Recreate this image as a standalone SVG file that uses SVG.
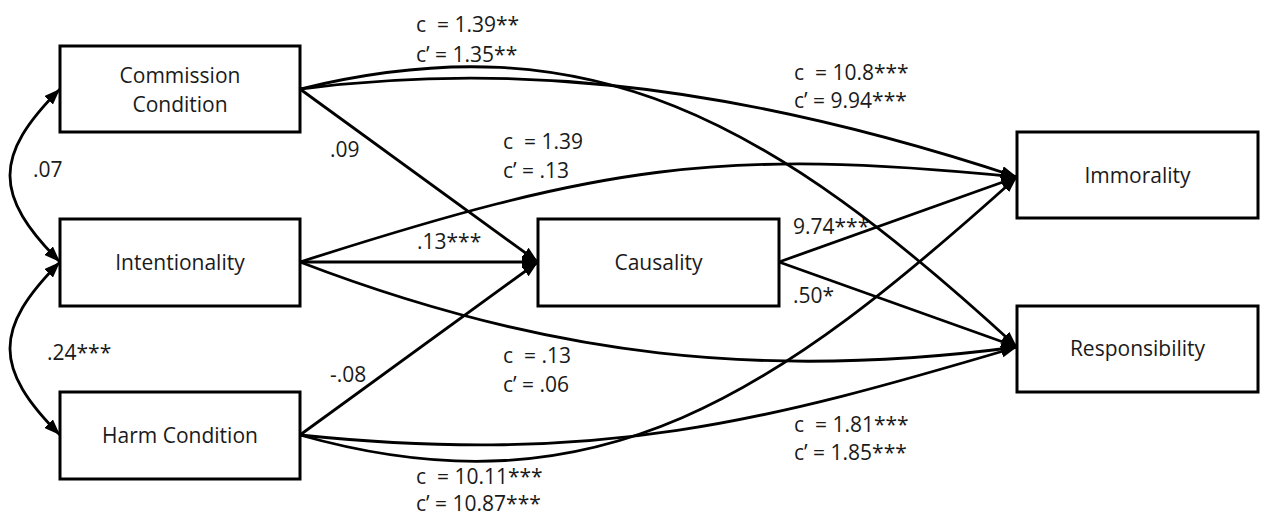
<svg xmlns="http://www.w3.org/2000/svg" width="1262" height="519" viewBox="0 0 1262 519">
  <style>
    .box { fill: #ffffff; stroke: #000000; stroke-width: 3; }
    .name { font-family: "Open Sans", "Noto Sans", sans-serif; font-size: 21px; fill: #1a1a1a; text-anchor: middle; }
    .lbl { font-family: "Open Sans", "Noto Sans", sans-serif; font-size: 21px; fill: #1a1a1a; white-space: pre; }
    .edge { fill: none; stroke: #000000; stroke-width: 2.8; marker-end: url(#arrow); }
    .both { fill: none; stroke: #000000; stroke-width: 2.8; marker-start: url(#arrowStart); marker-end: url(#arrow); }
  </style>
  <defs>
    <marker id="arrow" markerUnits="userSpaceOnUse" viewBox="0 0 16 12" refX="16" refY="6" markerWidth="16" markerHeight="12" orient="auto">
      <path d="M0,0 L16,6 L0,12 z" fill="#000000"/>
    </marker>
    <marker id="arrowStart" markerUnits="userSpaceOnUse" viewBox="0 0 16 12" refX="16" refY="6" markerWidth="16" markerHeight="12" orient="auto-start-reverse">
      <path d="M0,0 L16,6 L0,12 z" fill="#000000"/>
    </marker>
  </defs>

  <rect width="1262" height="519" fill="#ffffff"/>

  <!-- path coefficients and correlations -->
  <g id="labels">
    <text class="lbl" x="416" y="32">c  = 1.39**</text>
    <text class="lbl" x="416" y="62">c’ = 1.35**</text>
    <text class="lbl" x="794" y="80">c  = 10.8***</text>
    <text class="lbl" x="794" y="108">c’ = 9.94***</text>
    <text class="lbl" x="503" y="149">c  = 1.39</text>
    <text class="lbl" x="503" y="178">c’ = .13</text>
    <text class="lbl" x="330" y="157">.09</text>
    <text class="lbl" x="33" y="177">.07</text>
    <text class="lbl" x="417" y="249">.13***</text>
    <text class="lbl" x="793" y="234">9.74***</text>
    <text class="lbl" x="793" y="303">.50*</text>
    <text class="lbl" x="47" y="360">.24***</text>
    <text class="lbl" x="330" y="382">-.08</text>
    <text class="lbl" x="503" y="363">c  = .13</text>
    <text class="lbl" x="503" y="392">c’ = .06</text>
    <text class="lbl" x="794" y="432">c  = 1.81***</text>
    <text class="lbl" x="794" y="460">c’ = 1.85***</text>
    <text class="lbl" x="416" y="484">c  = 10.11***</text>
    <text class="lbl" x="416" y="511">c’ = 10.87***</text>
  </g>

  <g id="connectors">
    <!-- correlations between predictors -->
    <path class="both" d="M60,89 C-6.7,155.7 -6.7,195.3 60,262"/>
    <path class="both" d="M60,262 C-6.7,328.7 -6.7,368.3 60,435"/>
    <!-- paths into Causality -->
    <path class="edge" d="M300,89 L538,262"/>
    <path class="edge" d="M300,262 L538,262"/>
    <path class="edge" d="M300,435 L538,262"/>
    <!-- Causality to outcomes -->
    <path class="edge" d="M779,262 L1017,177"/>
    <path class="edge" d="M779,262 L1017,347"/>
    <!-- direct effects -->
    <path class="edge" d="M300,89 C480,66 700,72 1017,177"/>
    <path class="edge" d="M300,89 C590,18 770,120 1017,347"/>
    <path class="edge" d="M300,262 C600,166 717,147 1017,177"/>
    <path class="edge" d="M300,262 C550,358 767,380 1017,347"/>
    <path class="edge" d="M300,435 C600,520 780,390 1017,177"/>
    <path class="edge" d="M300,435 C600,466 767,421 1017,347"/>
  </g>

  <g id="commission">
    <rect class="box" x="60" y="46" width="240" height="86"/>
    <text class="name" x="180" y="83">Commission</text>
    <text class="name" x="180" y="112">Condition</text>
  </g>
  <g id="intentionality">
    <rect class="box" x="60" y="219" width="240" height="87"/>
    <text class="name" x="180" y="270">Intentionality</text>
  </g>
  <g id="harm">
    <rect class="box" x="60" y="392" width="240" height="87"/>
    <text class="name" x="180" y="443">Harm Condition</text>
  </g>
  <g id="causality">
    <rect class="box" x="538" y="219" width="241" height="87"/>
    <text class="name" x="658.5" y="270">Causality</text>
  </g>
  <g id="immorality">
    <rect class="box" x="1017" y="132" width="241" height="86"/>
    <text class="name" x="1137.5" y="183">Immorality</text>
  </g>
  <g id="responsibility">
    <rect class="box" x="1017" y="306" width="241" height="86"/>
    <text class="name" x="1137.5" y="356">Responsibility</text>
  </g>
</svg>
